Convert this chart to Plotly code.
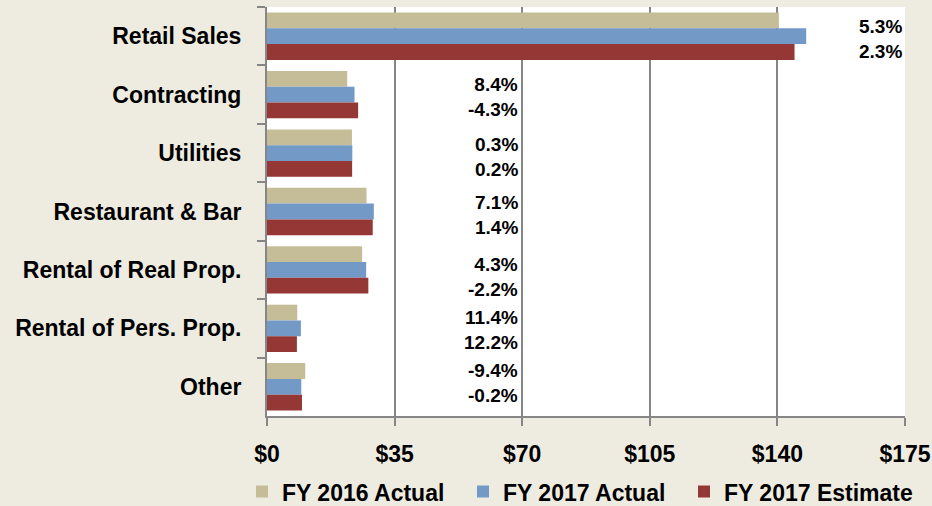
import plotly.graph_objects as go

categories = ["Retail Sales", "Contracting", "Utilities", "Restaurant & Bar",
              "Rental of Real Prop.", "Rental of Pers. Prop.", "Other"]
fy2016_actual = [140.4, 22.0, 23.3, 27.3, 26.1, 8.3, 10.5]
fy2017_actual = [147.9, 24.0, 23.4, 29.3, 27.2, 9.3, 9.4]
fy2017_estimate = [144.7, 25.0, 23.35, 29.0, 27.8, 8.2, 9.6]
pct_line1 = ["5.3%", "8.4%", "0.3%", "7.1%", "4.3%", "11.4%", "-9.4%"]
pct_line2 = ["2.3%", "-4.3%", "0.2%", "1.4%", "-2.2%", "12.2%", "-0.2%"]
x_ticks = [0, 35, 70, 105, 140, 175]
x_tick_labels = ["$0", "$35", "$70", "$105", "$140", "$175"]

FONT = "Liberation Sans"
series = [
    ("FY 2016 Actual", fy2016_actual, "#C4BD97", "legend"),
    ("FY 2017 Actual", fy2017_actual, "#7399C6", "legend2"),
    ("FY 2017 Estimate", fy2017_estimate, "#953735", "legend3"),
]

fig = go.Figure()
for name, vals, col, leg in series:
    fig.add_trace(go.Bar(
        y=categories, x=vals, name=name, orientation="h", legend=leg,
        marker=dict(color=col, line=dict(width=0)),
    ))

# label layout (anchor x in data units, vertical pixel shift)
label_x = [174.7, 69.4, 69.4, 69.4, 69.4, 69.4, 69.4]
label_shift = [-3, -2, -4, -3, -7, -2, 4]
for i, cat in enumerate(categories):
    fig.add_annotation(
        x=label_x[i], y=cat, xref="x", yref="y",
        text=pct_line1[i] + "<br>" + pct_line2[i],
        xanchor="right", yanchor="middle", align="right", showarrow=False,
        yshift=label_shift[i],
        font=dict(family=FONT, size=19, color="black", weight="bold"),
    )

legend_font = dict(family=FONT, size=23, color="black", weight="bold")
legend_x = [-0.0392, 0.3072, 0.6536]
legend_common = dict(orientation="h", xanchor="left", y=-0.185, yanchor="middle",
                     font=legend_font, bgcolor="rgba(0,0,0,0)")

fig.update_layout(
    width=932, height=506,
    paper_bgcolor="#EEECE1", plot_bgcolor="white",
    margin=dict(l=267, r=27, t=7, b=90, autoexpand=False),
    barmode="group", bargap=0.19, bargroupgap=0,
    font=dict(family=FONT, size=23, color="black", weight="bold"),
    legend=dict(x=legend_x[0], **legend_common),
    legend2=dict(x=legend_x[1], **legend_common),
    legend3=dict(x=legend_x[2], **legend_common),
    xaxis=dict(range=[0, 175], tickvals=x_ticks, ticktext=x_tick_labels,
               showgrid=True, gridcolor="#868686", gridwidth=2,
               showline=True, linecolor="#868686", linewidth=2,
               ticks="outside", ticklen=8, tickcolor="#868686", tickwidth=2,
               zeroline=False, fixedrange=True, ticklabelstandoff=8,
               tickfont=dict(family=FONT, size=23, color="black", weight="bold")),
    yaxis=dict(autorange="reversed", showline=True, linecolor="#868686", linewidth=2,
               ticks="outside", ticklen=8, tickcolor="#868686", tickwidth=2,
               tickson="boundaries", showgrid=False, ticklabelstandoff=19,
               tickfont=dict(family=FONT, size=23, color="black", weight="bold")),
    showlegend=True,
)

fig.write_html("out.html", config={"displayModeBar": False},
               post_script="document.body.style.margin='0';")
